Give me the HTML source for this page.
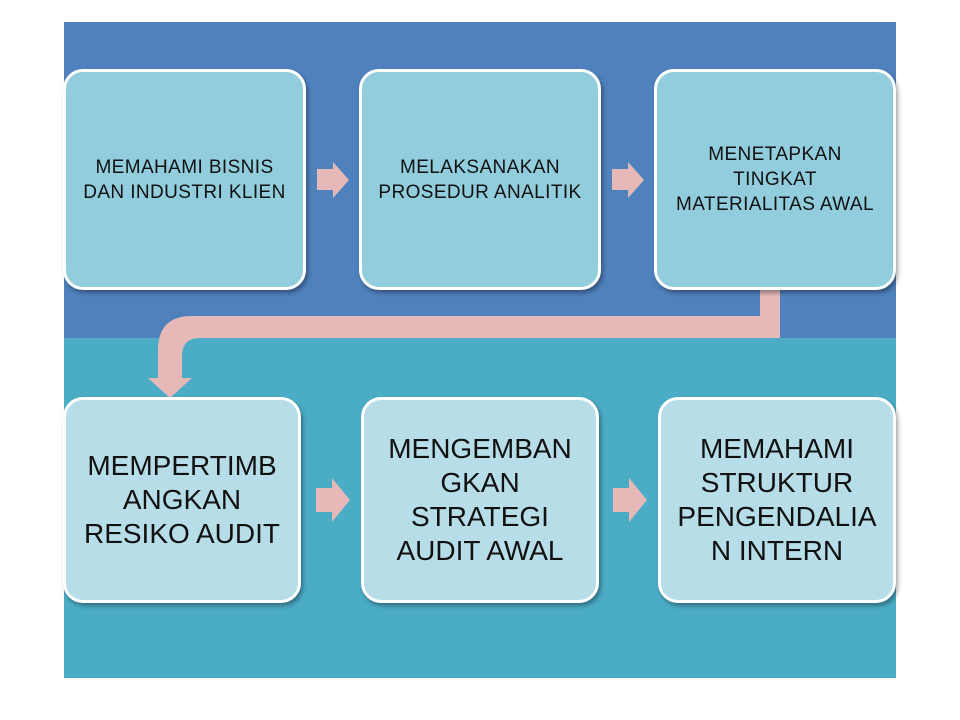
<!DOCTYPE html>
<html><head><style>
body{margin:0;width:960px;height:720px;background:#fff;position:relative;overflow:hidden;font-family:"Liberation Sans",sans-serif}
.bg{position:absolute}
.box{position:absolute;box-sizing:border-box;border:3px solid #fff;border-radius:20px;display:flex;align-items:center;justify-content:center;text-align:center;color:#111;box-shadow:2px 3px 4px rgba(0,0,0,0.35)}
.t{background:#92CDDD;font-size:19px;line-height:25px;letter-spacing:0.4px}
.b{background:#B7DEE8;font-size:28px;line-height:34px}
</style></head><body>
<div class="bg" style="left:64px;top:22px;width:832px;height:316px;background:#4F81BD"></div>
<div class="bg" style="left:64px;top:338px;width:832px;height:340px;background:#4BACC6"></div>
<svg class="bg" style="left:0;top:0" width="960" height="720">
<path d="M760 290 H780 V338 H200 Q182 338 182 356 V378 H192 L170 398 L148 378 H158 V350 Q158 316 192 316 H760 Z" fill="#E6B9B8"/>
<path d="M317 169 H333 V162 L349 180 L333 198 V190 H317 Z" fill="#E6B9B8"/>
<path d="M612 169 H628 V162 L644 180 L628 198 V190 H612 Z" fill="#E6B9B8"/>
<path d="M316 488 H332 V478 L350 500 L332 522 V512 H316 Z" fill="#E6B9B8"/>
<path d="M613 488 H629 V478 L647 500 L629 522 V512 H613 Z" fill="#E6B9B8"/>
</svg>
<div class="box t" style="left:63px;top:69px;width:243px;height:221px">MEMAHAMI BISNIS<br>DAN INDUSTRI KLIEN</div>
<div class="box t" style="left:359px;top:69px;width:242px;height:221px">MELAKSANAKAN<br>PROSEDUR ANALITIK</div>
<div class="box t" style="left:654px;top:69px;width:242px;height:221px">MENETAPKAN<br>TINGKAT<br>MATERIALITAS AWAL</div>
<div class="box b" style="left:63px;top:397px;width:238px;height:206px">MEMPERTIMB<br>ANGKAN<br>RESIKO AUDIT</div>
<div class="box b" style="left:361px;top:397px;width:238px;height:206px">MENGEMBAN<br>GKAN<br>STRATEGI<br>AUDIT AWAL</div>
<div class="box b" style="left:658px;top:397px;width:238px;height:206px">MEMAHAMI<br>STRUKTUR<br>PENGENDALIA<br>N INTERN</div>
</body></html>
